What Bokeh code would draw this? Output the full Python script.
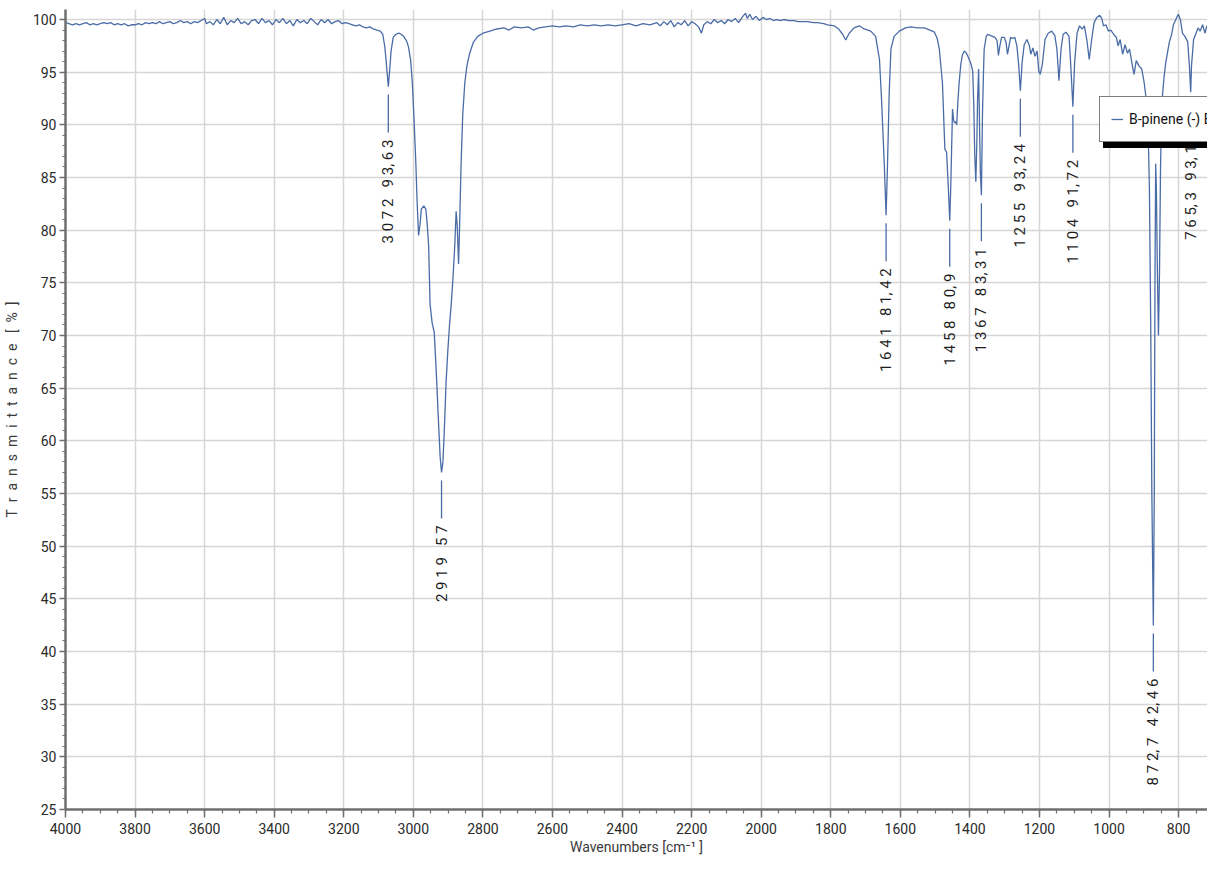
import numpy as np
from bokeh.plotting import figure
from bokeh.models import Range1d, Legend, LegendItem, FixedTicker
from bokeh.core.properties import value
from bokeh.embed import file_html
from bokeh.resources import INLINE

# ---------------- data ----------------
wavenumber = [
    4000, 3990, 3980, 3970, 3960, 3950, 3940, 3930, 3920, 3910,
    3900, 3890, 3880, 3870, 3860, 3850, 3840, 3830, 3820, 3810,
    3800, 3790, 3780, 3770, 3760, 3750, 3740, 3730, 3720, 3710,
    3700, 3690, 3680, 3670, 3660, 3650, 3640, 3630, 3620, 3610,
    3600, 3595, 3585, 3575, 3565, 3555, 3545, 3535, 3525, 3515,
    3505, 3495, 3485, 3475, 3465, 3455, 3445, 3435, 3425, 3415,
    3405, 3395, 3385, 3375, 3365, 3355, 3345, 3335, 3325, 3315,
    3305, 3295, 3285, 3275, 3265, 3255, 3245, 3235, 3225, 3215,
    3205, 3195, 3185, 3175, 3165, 3155, 3145, 3135, 3125, 3115,
    3105, 3095, 3088, 3082, 3077, 3072, 3068, 3064, 3058, 3050,
    3042, 3035, 3028, 3020, 3014, 3008, 3003, 2998, 2993, 2989,
    2985, 2981, 2977, 2970, 2964, 2960, 2956, 2952, 2946, 2940,
    2934, 2928, 2923, 2919, 2915, 2911, 2906, 2901, 2896, 2891,
    2886, 2881, 2877, 2874, 2870, 2867, 2863, 2858, 2852, 2846,
    2838, 2828, 2815, 2800, 2780, 2760, 2740, 2725, 2710, 2690,
    2670, 2655, 2640, 2620, 2600, 2580, 2560, 2540, 2520, 2500,
    2480, 2460, 2440, 2420, 2400, 2380, 2360, 2340, 2320, 2300,
    2290, 2280, 2270, 2260, 2250, 2240, 2230, 2220, 2210, 2200,
    2190, 2180, 2172, 2165, 2155, 2145, 2135, 2125, 2115, 2105,
    2095, 2085, 2075, 2065, 2055, 2045, 2040, 2033, 2025, 2015,
    2005, 1995, 1985, 1975, 1965, 1955, 1945, 1935, 1920, 1905,
    1895, 1880, 1867, 1850, 1838, 1820, 1809, 1790, 1776, 1766,
    1757, 1747, 1733, 1718, 1704, 1685, 1671, 1660, 1654, 1646,
    1641, 1637, 1632, 1627, 1618, 1603, 1585, 1570, 1550, 1531,
    1515, 1502, 1494, 1488, 1479, 1472, 1467, 1462, 1458, 1455,
    1450, 1447, 1445, 1441, 1438, 1435, 1431, 1426, 1421, 1416,
    1412, 1407, 1402, 1397, 1392, 1389, 1386, 1383, 1380, 1378,
    1375, 1372, 1370, 1367, 1364, 1361, 1359, 1353, 1349, 1342,
    1335, 1328, 1322, 1318, 1314, 1309, 1301, 1296, 1292, 1287,
    1283, 1277, 1271, 1265, 1260, 1255, 1250, 1244, 1236, 1229,
    1225, 1219, 1213, 1207, 1202, 1198, 1192, 1184, 1175, 1165,
    1156, 1150, 1144, 1138, 1132, 1124, 1115, 1110, 1104, 1099,
    1092, 1085, 1077, 1071, 1064, 1057, 1050, 1043, 1035, 1027,
    1021, 1016, 1009, 1002, 995, 987, 979, 974, 968, 961,
    954, 947, 941, 933, 928, 922, 914, 906, 899, 893,
    888, 884, 880, 877, 872.7, 870, 868, 866, 864, 861,
    858, 855, 852, 849, 846, 842, 837, 827, 820, 815,
    808, 801, 795, 789, 782, 774, 769, 765.3, 763, 757,
    750, 744, 738, 731, 724, 719, 712, 705, 698, 688,
    679,
]

transmittance = [
    99.7, 99.6, 99.5, 99.6, 99.5, 99.6, 99.7, 99.5, 99.6, 99.5,
    99.6, 99.7, 99.6, 99.7, 99.5, 99.6, 99.5, 99.6, 99.4, 99.5,
    99.5, 99.6, 99.5, 99.7, 99.6, 99.7, 99.6, 99.8, 99.6, 99.7,
    99.8, 99.6, 99.7, 99.9, 99.7, 99.8, 99.6, 99.8, 99.7, 99.9,
    100.1, 99.6, 99.8, 99.5, 100.0, 99.6, 100.2, 99.5, 99.9, 99.7,
    100.1, 99.6, 99.8, 99.5, 99.9, 100.0, 99.6, 100.1, 99.7, 99.9,
    99.5, 100.0, 99.7, 100.1, 99.6, 99.9, 99.4, 100.0, 99.7, 99.9,
    99.6, 100.1, 99.8, 99.5, 100.0, 99.7, 100.0, 99.6, 99.8, 99.9,
    99.6, 99.7, 99.6, 99.5, 99.4, 99.5, 99.3, 99.2, 99.3, 99.1,
    99.0, 98.9, 98.6, 97.4, 95.6, 93.63, 95.2, 97.0, 98.3, 98.6,
    98.7, 98.6, 98.4, 98.0, 97.4, 96.2, 94.0, 90.5, 86.5, 82.5,
    79.5, 80.5, 82.0, 82.3, 82.0, 80.5, 78.5, 73.0, 71.2, 70.3,
    66.5, 62.0, 58.5, 57.0, 58.0, 61.0, 65.5, 68.5, 71.0, 73.0,
    75.5, 78.5, 81.8, 80.5, 76.8, 80.5, 86.0, 91.0, 94.0, 95.6,
    96.8, 97.8, 98.4, 98.7, 98.9, 99.1, 99.2, 99.0, 99.3, 99.2,
    99.3, 99.0, 99.2, 99.3, 99.4, 99.3, 99.4, 99.3, 99.5, 99.4,
    99.5, 99.4, 99.5, 99.4, 99.5, 99.6, 99.4, 99.6, 99.5, 99.7,
    99.4, 99.8, 99.5, 99.9, 99.3, 99.7, 99.5, 99.9, 99.4, 99.8,
    99.6, 99.3, 98.7, 99.5, 99.8, 99.6, 100.0, 99.7, 99.9, 99.6,
    100.0, 99.8, 100.1, 99.7, 100.2, 100.6, 100.1, 100.5, 100.0, 100.3,
    99.9, 100.2, 100.0, 100.1, 99.9, 100.0, 99.9, 100.0, 99.9, 99.9,
    99.8, 99.8, 99.8, 99.7, 99.7, 99.6, 99.5, 99.4, 99.05, 98.6,
    98.05, 98.7, 99.2, 99.4, 99.1, 98.9, 98.4, 96.2, 92.4, 86.1,
    81.42, 86.1, 93.1, 97.2, 98.4, 98.9, 99.2, 99.3, 99.2, 99.2,
    99.0, 98.8, 98.2, 97.2, 94.0, 87.7, 87.4, 84.0, 80.9, 84.2,
    91.5, 90.5, 90.2, 90.3, 90.0, 92.0, 94.0, 95.8, 96.7, 97.0,
    96.9, 96.6, 96.2, 95.8, 95.1, 92.0, 87.0, 84.6, 88.5, 92.4,
    95.3, 89.3, 85.5, 83.31, 90.8, 95.0, 97.2, 98.4, 98.6, 98.5,
    98.4, 98.3, 98.0, 96.6, 97.5, 98.3, 98.3, 97.8, 96.7, 97.6,
    98.3, 98.2, 98.3, 97.5, 95.8, 93.24, 95.9, 97.6, 98.1, 97.5,
    96.7, 97.3, 96.5, 97.0, 95.1, 94.8, 95.7, 98.1, 98.7, 98.9,
    98.5, 97.2, 94.2, 97.2, 98.6, 98.8, 98.4, 95.6, 91.72, 95.9,
    98.7, 99.4, 99.1, 99.4, 98.1, 96.2, 98.1, 99.7, 100.2, 100.4,
    100.1, 99.4, 99.5, 98.9, 99.0, 98.6, 98.3, 97.5, 98.1, 96.7,
    97.6, 96.8, 97.2, 95.6, 94.8, 96.1, 95.6, 95.3, 94.0, 92.4,
    90.0, 84.0, 70.0, 55.0, 42.46, 55.0, 75.0, 86.3, 84.0, 76.0,
    70.0, 76.0, 86.0, 91.0, 93.0, 94.5, 95.9, 97.8, 98.6, 99.5,
    100.0, 100.5, 100.0, 98.7, 98.4, 97.9, 95.6, 93.1, 95.6, 98.1,
    98.7, 99.2, 98.9, 99.5, 98.7, 99.4, 98.9, 99.5, 99.2, 99.4,
    99.1,
]

peak_wn = [3072, 2919, 1641, 1458, 1367, 1255, 1104, 872.7, 765.3]
peak_t = [93.63, 57, 81.42, 80.9, 83.31, 93.24, 91.72, 42.46, 93.1]
peak_text = ["3072 93,63", "2919 57", "1641 81,42", "1458 80,9", "1367 83,31",
             "1255 93,24", "1104 91,72", "872,7 42,46", "765,3 93,1"]

x_ticks = list(range(800, 4001, 200))
x_minor = list(range(650, 4001, 50))
y_ticks = list(range(25, 101, 5))
y_minor = list(range(25, 101, 1))

series_name = "B-pinene (-) B032475"

# ---------------- style ----------------
NB = "\u00a0"
FONT = "Roboto"
BLUE = "#4a6ca6"
AXIS = "#6f6f6f"

W, H = 1207, 859
TOP, BOTTOM, LEFT = 9, 50, 64
Y0, Y1 = 25, 100.95
px_per_unit = (H - TOP - BOTTOM) / (Y1 - Y0)


def spaced(s):
    words = s.split(" ")
    return (NB * 3).join(NB.join(list(w)).replace(NB + ",", ",") for w in words)


p = figure(width=W, height=H, output_backend="svg", toolbar_location=None,
           x_range=Range1d(4000, 717), y_range=Range1d(Y0, Y1),
           min_border_left=LEFT, min_border_right=0,
           min_border_top=TOP, min_border_bottom=BOTTOM)
p.outline_line_color = None
p.background_fill_color = "white"
p.border_fill_color = "white"

spec = p.line(wavenumber, transmittance, line_color=BLUE, line_width=1.3)

# peak marker ticks + labels
gap, mlen, toff = 8, 46, 53
p.segment(x0=peak_wn, y0=[t - gap / px_per_unit for t in peak_t],
          x1=peak_wn, y1=[t - mlen / px_per_unit for t in peak_t],
          line_color=BLUE, line_width=1.3)
p.text(x=peak_wn, y=peak_t, text=[spaced(s) for s in peak_text],
       angle=np.pi / 2, y_offset=toff, text_align="right", text_baseline="middle",
       text_font=value(FONT), text_font_size="15px", text_color="#1e1e1e")

# axes
p.xaxis.ticker = FixedTicker(ticks=x_ticks, minor_ticks=x_minor)
p.yaxis.ticker = FixedTicker(ticks=y_ticks, minor_ticks=y_minor)
for ax in (p.xaxis[0], p.yaxis[0]):
    ax.axis_line_color = AXIS
    ax.axis_line_width = 2.5
    ax.major_tick_line_color = AXIS
    ax.minor_tick_line_color = AXIS
    ax.major_tick_line_width = 1.5
    ax.minor_tick_line_width = 1.2
    ax.major_tick_in = 0
    ax.minor_tick_in = 0
    ax.major_label_text_font = FONT
    ax.major_label_text_font_size = "14px"
    ax.major_label_text_color = "#2a2a2a"
    ax.axis_label_text_font = FONT
    ax.axis_label_text_font_style = "normal"
    ax.axis_label_text_color = "#3a3a3a"
p.xaxis.major_tick_out = 8
p.xaxis.minor_tick_out = 4
p.yaxis.major_tick_out = 6
p.yaxis.minor_tick_out = 3
p.xaxis.major_label_standoff = 5
p.yaxis.major_label_standoff = 3
p.xaxis.axis_label = "Wavenumbers [cm\u207b\u00b9 ]"
p.xaxis.axis_label_text_font_size = "14px"
p.xaxis.axis_label_standoff = 2
p.yaxis.axis_label = (NB * 2).join(list("Transmittance")) + NB * 3 + (NB * 2).join(["[", "%", "]"])
p.yaxis.axis_label_text_font_size = "14px"
p.yaxis.axis_label_standoff = 10

p.grid.grid_line_color = "#d6d6d6"
p.grid.grid_line_width = 1.5

# legend with drop shadow
LX, LY = 1034, 667
common = dict(label_text_font=FONT, label_text_font_size="14px", padding=11,
              glyph_width=12, glyph_height=22, label_height=22, label_standoff=6,
              border_line_width=1.5, margin=0, spacing=0)
shadow = Legend(items=[LegendItem(label=series_name, renderers=[spec])],
                location=(LX + 4, LY - 6), background_fill_color="black",
                background_fill_alpha=1.0, border_line_color="black",
                label_text_color="black", **common)
legend = Legend(items=[LegendItem(label=series_name, renderers=[spec])],
                location=(LX, LY), background_fill_color="white",
                background_fill_alpha=1.0, border_line_color="black",
                label_text_color="#111111", **common)
p.add_layout(shadow)
p.add_layout(legend)

open("out.html", "w").write(file_html(p, INLINE))
